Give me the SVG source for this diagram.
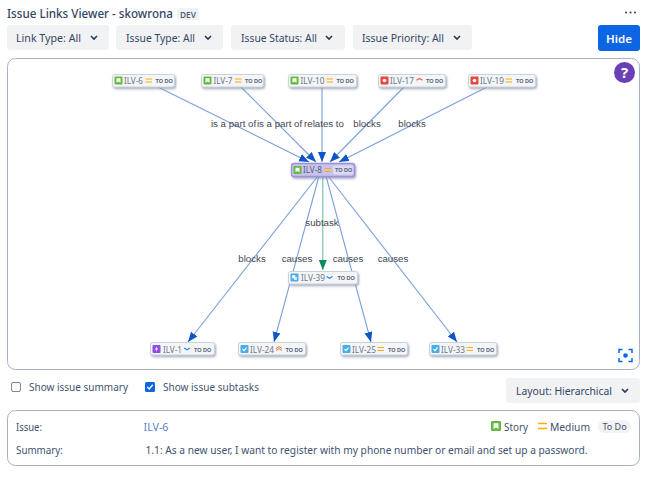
<svg xmlns="http://www.w3.org/2000/svg" width="652" height="484" viewBox="0 0 652 484">
<style>
text{font-family:"Noto Sans","Open Sans",sans-serif;fill:#42526e}
.ui{font-size:11.5px;fill:#344563}
.btn{fill:#f1f2f4}
.lbl{font-family:"Liberation Sans",Arial,sans-serif;font-size:9.700px;fill:#3f4650;text-anchor:middle}
.node{fill:#f4f5f7;stroke:#ccd2dc;stroke-width:1;filter:url(#sh)}
.id{font-size:9px;fill:#6b778c}
.st{font-family:"Liberation Sans",Arial,sans-serif;font-size:5.5px;font-weight:bold;fill:#505f79}
.e{stroke:#7ba0da;stroke-width:1.1;fill:none;marker-end:url(#ab)}
.chev{fill:none;stroke:#253858;stroke-width:1.6}
</style>
<defs>
<filter id="sh" x="-20%" y="-50%" width="140%" height="220%"><feDropShadow dx="1" dy="1.5" stdDeviation="1.2" flood-color="#8792a8" flood-opacity=".8"/></filter>
<marker id="ab" markerUnits="userSpaceOnUse" markerWidth="11" markerHeight="10" refX="10" refY="4" orient="auto"><path d="M0 0L10 4L0 8Z" fill="#0f56c6"/></marker>
<marker id="ag" markerUnits="userSpaceOnUse" markerWidth="11" markerHeight="10" refX="10" refY="4" orient="auto"><path d="M0 0L10 4L0 8Z" fill="#0d8a5f"/></marker>
<symbol id="story" viewBox="0 0 8 8" overflow="visible"><rect width="8" height="8" rx="1" fill="#63ba3c"/><path d="M2 1.7H6V6.3L4 5.1L2 6.3Z" fill="#fff"/></symbol>
<symbol id="bug" viewBox="0 0 8 8" overflow="visible"><rect width="8" height="8" rx="1" fill="#e5493a"/><circle cx="4" cy="4" r="1.8" fill="#fff"/></symbol>
<symbol id="task" viewBox="0 0 8 8" overflow="visible"><rect width="8" height="8" rx="1" fill="#4bade8"/><path d="M2 4.2L3.5 5.6L6 2.6" fill="none" stroke="#fff" stroke-width="1.1"/></symbol>
<symbol id="sub" viewBox="0 0 8 8" overflow="visible"><rect width="8" height="8" rx="1" fill="#4bade8"/><rect x="1.7" y="1.7" width="3" height="3" fill="#fff"/><rect x="3.4" y="3.4" width="3" height="3" fill="#fff" opacity=".8"/></symbol>
<symbol id="epic" viewBox="0 0 8 8" overflow="visible"><rect width="8" height="8" rx="1" fill="#904ee2"/><path d="M4.6 1.3L2.4 4.4H3.9L3.4 6.7L5.6 3.5H4.1Z" fill="#fff"/></symbol>
<g id="med"><path d="M0 0H6.500M0 3H6.500" stroke="#ffab00" stroke-width="1.200" fill="none"/></g>
<g id="low"><path d="M0 0L3 1.800L6 0" stroke="#2684ff" stroke-width="1.200" fill="none"/></g>
<g id="high"><path d="M0 1.800L3 0L6 1.800" stroke="#e5604a" stroke-width="1.200" fill="none"/></g>
<g id="hi2"><path d="M0 2.500L3 .7L6 2.500M0 4.500L3 2.700L6 4.500" stroke="#e5793a" stroke-width="1" fill="none"/></g>
</defs>
<rect width="652" height="484" fill="#fff"/>

<g id="header">
<text x="7" y="18" font-size="11.900" textLength="166" lengthAdjust="spacingAndGlyphs" style="fill:#344563;font-weight:500">Issue Links Viewer - skowrona</text>
<rect x="177" y="8" width="22" height="12" rx="2" fill="#f1f2f4"/>
<text x="180" y="18" font-size="8.300" font-weight="600" style="fill:#505f79">DEV</text>
<circle cx="626" cy="12.500" r="1" fill="#253858"/><circle cx="630.500" cy="12.500" r="1" fill="#253858"/><circle cx="635" cy="12.500" r="1" fill="#253858"/>
</g>
<g id="filter-link"><rect class="btn" x="7" y="25" width="102" height="25" rx="3"/><text class="ui" x="16" y="42" textLength="65" lengthAdjust="spacingAndGlyphs">Link Type: All</text><path class="chev" d="M91 36L94 39L97 36"/></g>
<g id="filter-type"><rect class="btn" x="116" y="25" width="107" height="25" rx="3"/><text class="ui" x="126" y="42" textLength="69" lengthAdjust="spacingAndGlyphs">Issue Type: All</text><path class="chev" d="M205 36L208 39L211 36"/></g>
<g id="filter-status"><rect class="btn" x="231" y="25" width="114" height="25" rx="3"/><text class="ui" x="241" y="42" textLength="76" lengthAdjust="spacingAndGlyphs">Issue Status: All</text><path class="chev" d="M326 36L329 39L332 36"/></g>
<g id="filter-priority"><rect class="btn" x="353" y="25" width="119" height="25" rx="3"/><text class="ui" x="362" y="42" textLength="82" lengthAdjust="spacingAndGlyphs">Issue Priority: All</text><path class="chev" d="M454 36L457 39L460 36"/></g>
<g id="hide"><rect x="598" y="25" width="42" height="26" rx="3" fill="#0c66e4"/><text x="619" y="42.500" font-size="11.500" text-anchor="middle" font-weight="600" style="fill:#fff">Hide</text></g>

<rect id="canvas" x="7.500" y="58.500" width="632" height="311" rx="8" fill="#fff" stroke="#a5b2c8"/>

<g id="connectors">
<path class="e" d="M156 86L309 162"/>
<path class="e" d="M240 86L316 162"/>
<path class="e" d="M322 86L322 162"/>
<path class="e" d="M405 86L330 162"/>
<path class="e" d="M489 86L339 162"/>
<path class="e" d="M318 176L188 342"/>
<path class="e" d="M319 176L274 342"/>
<path class="e" d="M326 176L371 342"/>
<path class="e" d="M328 176L457 342"/>
<path d="M322.800 176V270" fill="none" stroke="#6cc0a0" stroke-width="1.100" marker-end="url(#ag)"/>
</g>
<g id="edge-labels">
<text class="lbl" x="233.500" y="127">is a part of</text>
<text class="lbl" x="279.500" y="127">is a part of</text>
<text class="lbl" x="324" y="127">relates to</text>
<text class="lbl" x="367" y="127">blocks</text>
<text class="lbl" x="412" y="127">blocks</text>
<text class="lbl" x="322" y="226">subtask</text>
<text class="lbl" x="252" y="262">blocks</text>
<text class="lbl" x="297" y="262">causes</text>
<text class="lbl" x="348" y="262">causes</text>
<text class="lbl" x="393" y="262">causes</text>
</g>

<g id="n-ILV-6"><rect class="node" x="112.500" y="74.500" width="62" height="12.500" rx="2"/><use href="#story" x="114.500" y="76.500" width="8" height="8"/><text class="id" x="124" y="84" textLength="19" lengthAdjust="spacingAndGlyphs">ILV-6</text><use href="#med" x="145.500" y="79"/><text class="st" x="155.500" y="83">TO DO</text></g>
<g id="n-ILV-7"><rect class="node" x="201.500" y="74.500" width="62" height="12.500" rx="2"/><use href="#story" x="203.500" y="76.500" width="8" height="8"/><text class="id" x="213.500" y="84" textLength="19" lengthAdjust="spacingAndGlyphs">ILV-7</text><use href="#med" x="235" y="79"/><text class="st" x="245" y="83">TO DO</text></g>
<g id="n-ILV-10"><rect class="node" x="288.500" y="74.500" width="68" height="12.500" rx="2"/><use href="#story" x="290.500" y="76.500" width="8" height="8"/><text class="id" x="300.500" y="84" textLength="24" lengthAdjust="spacingAndGlyphs">ILV-10</text><use href="#med" x="326.500" y="79"/><text class="st" x="336.500" y="83">TO DO</text></g>
<g id="n-ILV-17"><rect class="node" x="378.500" y="74.500" width="67" height="12.500" rx="2"/><use href="#bug" x="380.500" y="76.500" width="8" height="8"/><text class="id" x="390" y="84" textLength="24" lengthAdjust="spacingAndGlyphs">ILV-17</text><use href="#high" x="416.500" y="78.500"/><text class="st" x="426" y="83">TO DO</text></g>
<g id="n-ILV-19"><rect class="node" x="468.500" y="74.500" width="67" height="12.500" rx="2"/><use href="#bug" x="470.500" y="76.500" width="8" height="8"/><text class="id" x="480" y="84" textLength="24" lengthAdjust="spacingAndGlyphs">ILV-19</text><use href="#med" x="505.500" y="79"/><text class="st" x="516" y="83">TO DO</text></g>

<g id="n-ILV-8"><rect x="291.500" y="163.500" width="63" height="13" rx="2.500" fill="#c9c3ec" stroke="#9d90e0" stroke-width="1.300" filter="url(#sh)"/><use href="#story" x="293.500" y="166" width="8" height="8"/><text class="id" x="303" y="173" textLength="19" lengthAdjust="spacingAndGlyphs" style="fill:#505f79">ILV-8</text><use href="#med" x="324.500" y="168.500"/><rect x="333" y="165.500" width="20" height="9" rx="1.500" fill="#ded9f4"/><text class="st" x="335" y="172">TO DO</text></g>
<g id="n-ILV-39"><rect class="node" x="288.500" y="271.500" width="69" height="12.500" rx="2"/><use href="#sub" x="290.500" y="273.500" width="8" height="8"/><text class="id" x="301" y="280.500" textLength="24" lengthAdjust="spacingAndGlyphs">ILV-39</text><use href="#low" x="326.500" y="276.500"/><text class="st" x="337.500" y="280">TO DO</text></g>
<g id="n-ILV-1"><rect class="node" x="150.500" y="342.500" width="64" height="12.500" rx="2"/><use href="#epic" x="152.500" y="345" width="8" height="8"/><text class="id" x="163" y="352.500" textLength="19" lengthAdjust="spacingAndGlyphs">ILV-1</text><use href="#low" x="184" y="348"/><text class="st" x="194" y="351.500">TO DO</text></g>
<g id="n-ILV-24"><rect class="node" x="238.500" y="342.500" width="67" height="12.500" rx="2"/><use href="#task" x="240.500" y="345" width="8" height="8"/><text class="id" x="250" y="352.500" textLength="24" lengthAdjust="spacingAndGlyphs">ILV-24</text><use href="#hi2" x="276" y="346"/><text class="st" x="285.500" y="351.500">TO DO</text></g>
<g id="n-ILV-25"><rect class="node" x="340.500" y="342.500" width="67" height="12.500" rx="2"/><use href="#task" x="342.500" y="345" width="8" height="8"/><text class="id" x="352" y="352.500" textLength="24" lengthAdjust="spacingAndGlyphs">ILV-25</text><use href="#med" x="377.500" y="347.500"/><text class="st" x="388" y="351.500">TO DO</text></g>
<g id="n-ILV-33"><rect class="node" x="429.500" y="342.500" width="67" height="12.500" rx="2"/><use href="#task" x="431.500" y="345" width="8" height="8"/><text class="id" x="441" y="352.500" textLength="24" lengthAdjust="spacingAndGlyphs">ILV-33</text><use href="#med" x="466.500" y="347.500"/><text class="st" x="477" y="351.500">TO DO</text></g>

<g id="help"><circle cx="624.500" cy="72.500" r="10.500" fill="#6b3fb5"/><text x="624.500" y="78" font-size="15" font-weight="700" text-anchor="middle" style="fill:#fff">?</text></g>
<g id="fit" fill="none" stroke="#0c66e4" stroke-width="1.500"><path d="M619 353V349.500H622.500M628.500 349.500H632V353M632 358V361.500H628.500M622.500 361.500H619V358"/><circle cx="625.500" cy="355.500" r="2.300" fill="#0c66e4" stroke="none"/></g>

<g id="opt-summary"><rect x="11.500" y="382.500" width="9" height="9" rx="1.500" fill="#fff" stroke="#7a869a"/><text class="ui" x="29" y="391" style="fill:#42526e" font-size="10.500" textLength="99" lengthAdjust="spacingAndGlyphs">Show issue summary</text></g>
<g id="opt-subtasks"><rect x="145" y="382" width="10" height="10" rx="1.500" fill="#0c66e4"/><path d="M147.300 387L149.300 389L152.800 384.800" fill="none" stroke="#fff" stroke-width="1.400"/><text class="ui" x="163" y="391" style="fill:#42526e" font-size="10.500" textLength="96" lengthAdjust="spacingAndGlyphs">Show issue subtasks</text></g>
<g id="layout"><rect class="btn" x="506" y="378" width="134" height="25" rx="3"/><text class="ui" x="516" y="395" textLength="96" lengthAdjust="spacingAndGlyphs">Layout: Hierarchical</text><path class="chev" d="M622 389L625 392L628 389"/></g>

<g id="details">
<rect x="7.500" y="410.500" width="632" height="55" rx="8" fill="#fff" stroke="#a5b0c0"/>
<text x="16" y="431" font-size="10.500" textLength="26" lengthAdjust="spacingAndGlyphs" style="fill:#42526e">Issue:</text>
<text x="143.500" y="431" font-size="10.500" textLength="25" lengthAdjust="spacingAndGlyphs" style="fill:#5b7fc7">ILV-6</text>
<text x="16" y="454" font-size="10.500" textLength="47" lengthAdjust="spacingAndGlyphs" style="fill:#42526e">Summary:</text>
<text x="145.500" y="454" font-size="10.500" textLength="442" lengthAdjust="spacingAndGlyphs" style="fill:#42526e">1.1: As a new user, I want to register with my phone number or email and set up a password.</text>
<use href="#story" x="491" y="421" width="10" height="10"/>
<text x="504" y="431" font-size="10.500" textLength="24" lengthAdjust="spacingAndGlyphs" style="fill:#42526e">Story</text>
<path d="M538 423.500H547M538 428.500H547" stroke="#ffab00" stroke-width="1.500"/>
<text x="550" y="431" font-size="10.500" textLength="40" lengthAdjust="spacingAndGlyphs" style="fill:#42526e">Medium</text>
<rect x="598" y="420.500" width="33" height="12.500" rx="6" fill="#f1f2f4"/>
<text x="614.500" y="430" font-size="9" text-anchor="middle" style="fill:#42526e">To Do</text>
</g>
</svg>
